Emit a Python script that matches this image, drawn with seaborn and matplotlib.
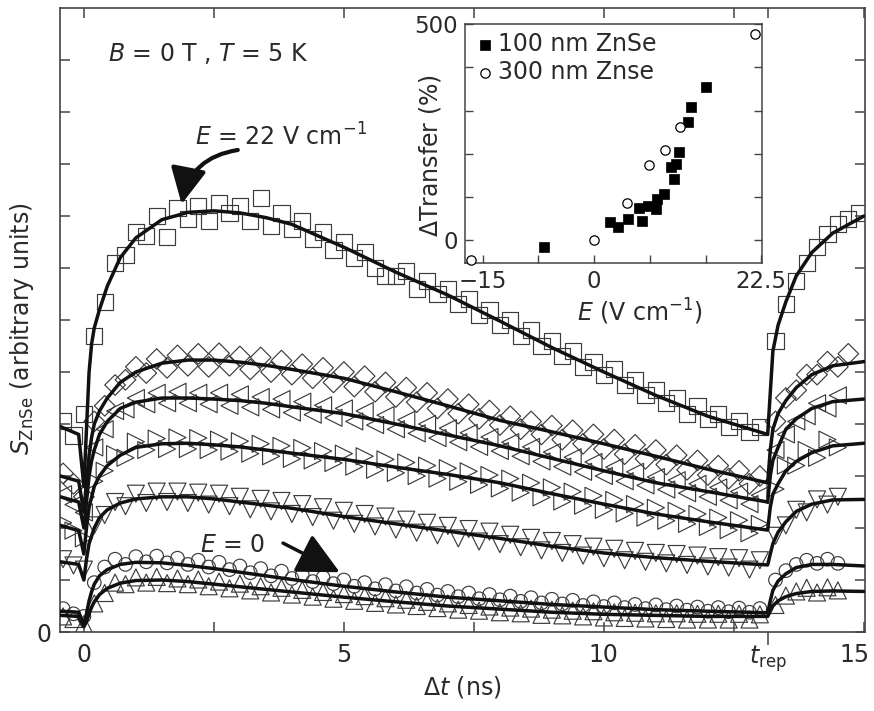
import numpy as np
import matplotlib
matplotlib.use("Agg")
import matplotlib.pyplot as plt
import matplotlib.lines as mlines
import matplotlib.transforms as mtransforms
import seaborn as sns

sns.set_theme(style="ticks")
plt.rcParams["font.family"] = ["DejaVu Sans"]
plt.rcParams["mathtext.fontset"] = "dejavusans"

INK = "#2a2a2a"
T_REP = 13.16  # laser repetition period (ns)

# ---------------------------------------------------------------------------
# Measured Kerr signal S_ZnSe versus pump-probe delay (ns)
# ---------------------------------------------------------------------------
t_meas = [-0.4, -0.2,
          0.0, 0.2, 0.4, 0.6, 0.8, 1.0, 1.2, 1.4, 1.6, 1.8, 2.0, 2.2, 2.4, 2.6,
          2.8, 3.0, 3.2, 3.4, 3.6, 3.8, 4.0, 4.2, 4.4, 4.6, 4.8, 5.0, 5.2, 5.4,
          5.6, 5.8, 6.0, 6.2, 6.4, 6.6, 6.8, 7.0, 7.2, 7.4, 7.6, 7.8, 8.0, 8.2,
          8.4, 8.6, 8.8, 9.0, 9.2, 9.4, 9.6, 9.8, 10.0, 10.2, 10.4, 10.6, 10.8,
          11.0, 11.2, 11.4, 11.6, 11.8, 12.0, 12.2, 12.4, 12.6, 12.8, 13.0,
          13.3, 13.5, 13.7, 13.9, 14.1, 14.3, 14.5, 14.7, 14.9]

nan = np.nan

s_square = [4.05, 3.78,
            4.2, 5.7, 6.35, 7.1, 7.25, 7.7, 7.62, 8.0, 7.6, 8.15, 7.95, 8.2, 7.9,
            8.25, 8.05, 8.2, 7.9, 8.35, 7.8, 8.05, 7.75, 7.9, 7.55, 7.7, 7.35,
            7.5, 7.2, 7.3, 7.0, 6.85, 6.85, 6.95, 6.6, 6.75, 6.5, 6.6, 6.3, 6.4,
            6.1, 6.2, 5.9, 6.0, 5.7, 5.8, 5.5, 5.6, 5.3, 5.4, 5.1, 5.2, 4.95,
            5.05, 4.75, 4.85, 4.55, 4.65, 4.4, 4.5, 4.2, 4.35, 4.1, 4.2, 3.95,
            4.05, 3.85, 3.95,
            5.6, 6.3, 6.75, 7.1, 7.4, 7.65, 7.85, 7.95, 8.05]

s_diamond = [3.05, 2.85,
             2.6, 4.05, 4.35, 4.75, 4.85, 5.1, 4.98, 5.25, 5.08, 5.32, 5.12,
             5.35, 5.1, 5.36, 5.12, 5.3, 5.05, 5.28, 5.0, 5.22, 4.95, 5.15,
             4.88, 5.08, 4.8, 5.0, 4.72, 4.92, 4.62, 4.8, 4.52, 4.7, 4.42, 4.6,
             4.3, 4.48, 4.2, 4.38, 4.1, 4.26, 3.98, 4.15, 3.9, 4.05, 3.8, 3.97,
             3.7, 3.88, 3.62, 3.8, 3.52, 3.7, 3.42, 3.6, 3.33, 3.5, 3.22, 3.4,
             3.12, 3.3, 3.02, 3.2, 2.95, 3.1, 2.85, 3.0,
             4.05, 4.5, 4.65, 4.95, 4.95, 5.2, 5.1, 5.35, nan]

s_left = [2.65, 2.45,
          2.3, 3.55, 3.9, 4.25, 4.28, 4.5, 4.38, 4.6, 4.4, 4.62, 4.4, 4.6,
          4.38, 4.6, 4.35, 4.57, 4.32, 4.52, 4.28, 4.48, 4.22, 4.43, 4.18,
          4.36, 4.12, 4.3, 4.05, 4.25, 3.98, 4.17, 3.9, 4.08, 3.82, 4.0, 3.73,
          3.92, 3.65, 3.83, 3.56, 3.75, 3.48, 3.65, 3.38, 3.56, 3.28, 3.46,
          3.18, 3.36, 3.08, 3.27, 3.0, 3.17, 2.9, 3.08, 2.82, 2.98, 2.74, 2.92,
          2.67, 2.85, 2.6, 2.78, 2.53, 2.7, 2.46, 2.63,
          3.5, 3.8, 4.05, 4.15, 4.4, 4.3, 4.55, nan, nan]

s_right = [2.1, 1.95,
           1.8, 2.9, 3.1, 3.42, 3.35, 3.66, 3.5, 3.72, 3.52, 3.74, 3.52, 3.73,
           3.5, 3.7, 3.47, 3.67, 3.43, 3.62, 3.38, 3.58, 3.33, 3.54, 3.3, 3.48,
           3.25, 3.43, 3.18, 3.38, 3.12, 3.32, 3.06, 3.26, 3.0, 3.2, 2.95,
           3.15, 2.89, 3.09, 2.83, 3.02, 2.76, 2.95, 2.68, 2.87, 2.59, 2.78,
           2.51, 2.7, 2.43, 2.62, 2.35, 2.54, 2.28, 2.46, 2.2, 2.39, 2.14, 2.33,
           2.08, 2.27, 2.02, 2.2, 1.96, 2.15, 1.9, 2.08,
           2.75, 3.2, 3.2, 3.5, 3.35, 3.7, 3.55, nan, nan]

s_down = [1.4, 1.28,
          1.2, 2.05, 2.25, 2.5, 2.42, 2.66, 2.48, 2.7, 2.5, 2.7, 2.48, 2.68,
          2.45, 2.66, 2.42, 2.6, 2.36, 2.56, 2.32, 2.52, 2.27, 2.46, 2.21, 2.4,
          2.14, 2.33, 2.08, 2.27, 2.03, 2.22, 1.97, 2.16, 1.91, 2.1, 1.86,
          2.04, 1.8, 1.98, 1.74, 1.93, 1.69, 1.87, 1.63, 1.81, 1.57, 1.75,
          1.52, 1.69, 1.47, 1.64, 1.42, 1.6, 1.38, 1.56, 1.35, 1.52, 1.32, 1.5,
          1.29, 1.47, 1.26, 1.44, 1.24, 1.42, 1.2, 1.38,
          1.85, 2.05, 2.35, 2.3, 2.55, 2.45, 2.6, nan, nan]

s_circle = [0.45, 0.35,
            0.3, 0.95, 1.25, 1.4, 1.3, 1.45, 1.35, 1.46, 1.33, 1.42, 1.3, 1.38,
            1.25, 1.34, 1.2, 1.27, 1.14, 1.22, 1.08, 1.17, 1.03, 1.1, 0.97,
            1.05, 0.93, 1.0, 0.88, 0.95, 0.83, 0.91, 0.79, 0.87, 0.75, 0.82,
            0.71, 0.78, 0.68, 0.75, 0.64, 0.72, 0.62, 0.69, 0.59, 0.66, 0.56,
            0.63, 0.54, 0.61, 0.51, 0.58, 0.49, 0.56, 0.47, 0.53, 0.45, 0.52,
            0.43, 0.5, 0.42, 0.48, 0.4, 0.47, 0.39, 0.46, 0.38, 0.45,
            1.0, 1.18, 1.3, 1.38, 1.32, 1.4, 1.32, nan, nan]

s_up = [0.3, 0.25,
        0.15, 0.55, 0.75, 0.95, 0.92, 1.05, 0.95, 1.06, 0.94, 1.03, 0.92, 1.01,
        0.88, 0.97, 0.84, 0.93, 0.8, 0.88, 0.76, 0.85, 0.72, 0.81, 0.68, 0.77,
        0.64, 0.73, 0.6, 0.69, 0.56, 0.65, 0.53, 0.62, 0.5, 0.58, 0.46, 0.55,
        0.43, 0.52, 0.41, 0.49, 0.38, 0.47, 0.36, 0.45, 0.33, 0.43, 0.32, 0.41,
        0.3, 0.4, 0.28, 0.38, 0.27, 0.37, 0.26, 0.36, 0.25, 0.36, 0.24, 0.35,
        0.24, 0.35, 0.24, 0.35, 0.24, 0.34,
        0.52, 0.7, 0.78, 0.85, 0.76, 0.86, 0.8, nan, nan]

# ---------------------------------------------------------------------------
# Model fits evaluated at selected delays
# ---------------------------------------------------------------------------
t_fit = [-0.45, -0.1, 0.0, 0.05, 0.1, 0.15, 0.2, 0.3, 0.45, 0.7, 1.0, 1.5,
         2.0, 2.5, 3.0, 3.5, 4.0, 5.0, 6.0, 7.0, 8.0, 9.0, 10.0, 11.0, 12.0,
         13.15, 13.2, 13.25, 13.35, 13.5, 13.7, 14.0, 14.4, 15.0]

f_square = [3.95, 3.8, 2.8, 3.9, 5.0, 5.55, 5.85, 6.2, 6.65, 7.2, 7.58, 7.93,
            8.07, 8.1, 8.06, 7.97, 7.84, 7.4, 6.92, 6.48, 5.98, 5.47, 5.0,
            4.55, 4.15, 3.8, 4.6, 5.4, 5.9, 6.35, 6.85, 7.3, 7.67, 8.0]
f_diamond = [3.0, 2.9, 2.3, 2.9, 3.4, 3.75, 4.0, 4.25, 4.5, 4.8, 5.0, 5.17,
             5.23, 5.23, 5.19, 5.13, 5.05, 4.88, 4.62, 4.35, 4.07, 3.85, 3.62,
             3.38, 3.13, 2.87, 3.5, 3.9, 4.2, 4.45, 4.7, 4.95, 5.12, 5.2]
f_left = [2.6, 2.5, 2.0, 2.5, 3.0, 3.3, 3.5, 3.8, 4.05, 4.3, 4.42, 4.5, 4.5,
          4.48, 4.45, 4.4, 4.33, 4.2, 4.0, 3.79, 3.58, 3.34, 3.1, 2.87, 2.7,
          2.5, 3.0, 3.3, 3.55, 3.9, 4.1, 4.3, 4.43, 4.48]
f_right = [2.05, 1.95, 1.5, 2.0, 2.4, 2.6, 2.8, 3.0, 3.2, 3.4, 3.55, 3.62,
           3.63, 3.6, 3.56, 3.5, 3.44, 3.32, 3.17, 3.03, 2.87, 2.66, 2.46,
           2.27, 2.12, 1.96, 2.4, 2.65, 2.85, 3.1, 3.28, 3.45, 3.58, 3.63]
f_down = [1.35, 1.3, 1.0, 1.4, 1.7, 1.85, 2.0, 2.2, 2.35, 2.48, 2.56, 2.6, 2.6,
          2.56, 2.5, 2.44, 2.38, 2.22, 2.08, 1.94, 1.8, 1.65, 1.52, 1.43, 1.36,
          1.29, 1.5, 1.7, 1.92, 2.12, 2.32, 2.46, 2.54, 2.55]
f_circle = [0.4, 0.38, 0.15, 0.35, 0.6, 0.78, 0.92, 1.08, 1.2, 1.3, 1.34, 1.33,
            1.28, 1.22, 1.15, 1.08, 1.01, 0.88, 0.77, 0.67, 0.6, 0.53, 0.48,
            0.43, 0.4, 0.37, 0.6, 0.8, 0.98, 1.12, 1.24, 1.3, 1.3, 1.27]
f_up = [0.32, 0.3, 0.1, 0.2, 0.35, 0.48, 0.58, 0.72, 0.84, 0.94, 0.99, 1.0,
        0.97, 0.92, 0.87, 0.82, 0.77, 0.67, 0.58, 0.5, 0.44, 0.38, 0.34, 0.32,
        0.3, 0.3, 0.4, 0.5, 0.6, 0.68, 0.74, 0.78, 0.79, 0.78]

# ---------------------------------------------------------------------------
# Inset: change of spin transfer versus applied field
# ---------------------------------------------------------------------------
E_100 = [-6.8, 2.1, 3.2, 4.5, 6.0, 6.5, 7.2, 8.3, 8.4, 9.4, 10.4, 11.0, 10.8,
         11.4, 12.6, 13.1, 15.1]
dT_100 = [-15, 42, 31, 50, 75, 45, 78, 73, 96, 108, 169, 177, 142, 205, 273,
          309, 355]
E_300 = [-16.6, 0.0, 4.4, 7.4, 9.6, 11.6, 21.6]
dT_300 = [-45, 0, 87, 173, 209, 262, 477]

# ---------------------------------------------------------------------------
fig = plt.figure(figsize=(8.74, 7.11), dpi=100)
ax = fig.add_axes([0.0686, 0.1111, 0.921, 0.8776])

traces = [
    ("s", 135, s_square, f_square),
    ("D", 110, s_diamond, f_diamond),
    ("<", 150, s_left, f_left),
    (">", 150, s_right, f_right),
    ("v", 150, s_down, f_down),
    ("o", 95, s_circle, f_circle),
    ("^", 150, s_up, f_up),
]

for marker, size, meas, fit in traces:
    sns.scatterplot(x=t_meas, y=meas, marker=marker, s=size,
                    facecolor="none", edgecolor="#3c3c3c", linewidth=0.85,
                    ax=ax, zorder=2, legend=False)
for marker, size, meas, fit in traces:
    sns.lineplot(x=t_fit, y=fit, color="#111111", linewidth=2.5,
                 sort=False, estimator=None, ax=ax, zorder=3)

ax.set_xlim(-0.46, 15.02)
ax.set_ylim(0, 12)

xt = [0, 2.5, 5, 7.5, 10, 12.5, T_REP, 15]
ax.set_xticks(xt)
ax.set_xticklabels(["0", "", "5", "", "10", "", r"$t_{\mathrm{rep}}$", "15"])
ax.set_yticks(range(0, 12))
ax.set_yticklabels(["0"] + [""] * 11)
ax.tick_params(axis="both", which="major", direction="in", length=7,
               width=1.1, color="#444444", labelsize=17, labelcolor=INK,
               top=True, right=True)
ax.tick_params(axis="x", pad=8)
ax.tick_params(axis="y", pad=6)

# the repetition-period tick points outward
rep_tick = ax.xaxis.get_major_ticks()[6]
rep_tick.tick1line.set_marker(mlines.TICKDOWN)
rep_tick.tick1line.set_markersize(9)

# keep the last tick label inside the canvas
last_lbl = ax.get_xticklabels()[-1]
last_lbl.set_transform(last_lbl.get_transform() +
                       mtransforms.ScaledTranslation(-9 / 100, 0,
                                                     fig.dpi_scale_trans))

for sp in ax.spines.values():
    sp.set_color("#444444")
    sp.set_linewidth(1.2)

ax.set_xlabel(r"$\Delta t$ (ns)", fontsize=17, color=INK)
ax.xaxis.set_label_coords(0.5, -0.068)
ax.set_ylabel(r"$S_{\mathrm{ZnSe}}$ (arbitrary units)", fontsize=17, color=INK)
ax.yaxis.set_label_coords(-0.030, 0.486)

ax.text(0.46, 11.13, r"$B$ = 0 T , $T$ = 5 K", fontsize=17, color=INK,
        ha="left", va="center")
ax.text(2.13, 9.52, r"$E$ = 22 V cm$^{-1}$", fontsize=17, color=INK,
        ha="left", va="center")
ax.annotate("", xy=(1.88, 8.23), xytext=(2.96, 9.27),
            arrowprops=dict(arrowstyle="-|>,head_length=1.1,head_width=0.55",
                            mutation_scale=20, lw=3, color="#111111",
                            connectionstyle="arc3,rad=0.35",
                            shrinkA=0, shrinkB=0))
ax.text(2.23, 1.67, r"$E$ = 0", fontsize=17, color=INK, ha="left", va="center")
ax.annotate("", xy=(4.92, 1.15), xytext=(3.83, 1.71),
            arrowprops=dict(arrowstyle="-|>,head_length=1.3,head_width=0.65",
                            mutation_scale=20, lw=2.5, color="#111111",
                            shrinkA=0, shrinkB=0))

# inset
ax_in = fig.add_axes([0.532, 0.630, 0.3398, 0.336])
ax_in.set_facecolor("white")
sns.scatterplot(x=E_100, y=dT_100, marker="s", s=42, color="black",
                edgecolor="black", linewidth=0.5, label="100 nm ZnSe",
                ax=ax_in, zorder=3)
sns.scatterplot(x=E_300, y=dT_300, marker="o", s=45, facecolor="white",
                edgecolor="black", linewidth=0.9, label="300 nm Znse",
                ax=ax_in, zorder=3, clip_on=False)
ax_in.set_xlim(-17.4, 22.6)
ax_in.set_ylim(-53, 500)
ax_in.set_xticks([-15, -7.5, 0, 7.5, 15, 22.5])
ax_in.set_xticklabels(["\u221215", "", "0", "", "", "22.5"])
ax_in.set_yticks([0, 100, 200, 300, 400, 500])
ax_in.set_yticklabels(["0", "", "", "", "", "500"])
ax_in.tick_params(axis="both", direction="in", length=6, width=1.0,
                  color="#444444", labelsize=16.5, labelcolor=INK,
                  right=True, pad=5)
for sp in ax_in.spines.values():
    sp.set_color("#444444")
    sp.set_linewidth(1.1)
ax_in.set_xlabel(r"$E$ (V cm$^{-1}$)", fontsize=17, color=INK)
ax_in.xaxis.set_label_coords(0.59, -0.142)
ax_in.set_ylabel(r"$\Delta$Transfer (%)", fontsize=17, color=INK)
ax_in.yaxis.set_label_coords(-0.074, 0.45)
ax_in.legend(loc="upper left", frameon=False, fontsize=17,
             handletextpad=0.05, borderaxespad=0.15, borderpad=0.2,
             labelspacing=0.15, handlelength=1.0, labelcolor=INK)

fig.savefig("out.png", dpi=100)
